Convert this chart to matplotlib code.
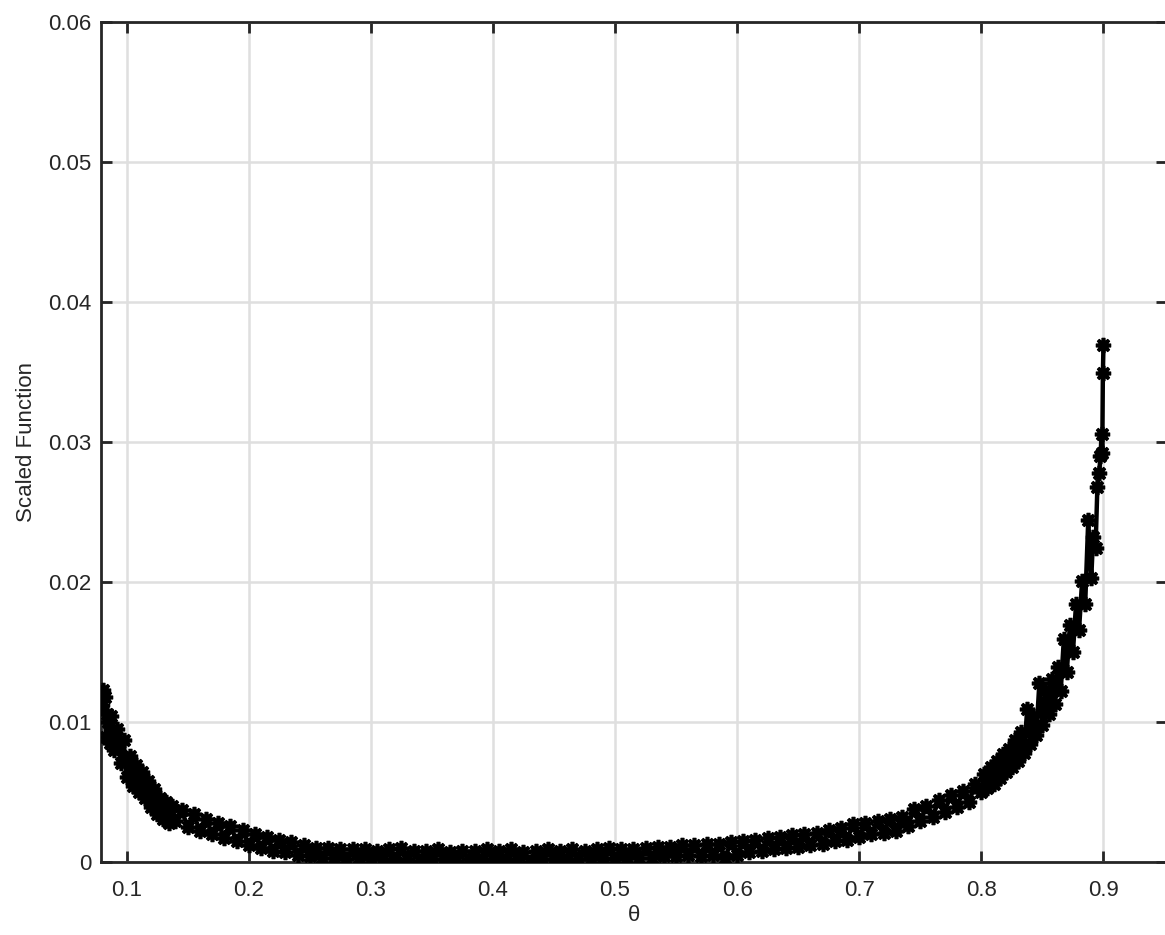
import numpy as np
import matplotlib
matplotlib.use("Agg")
import matplotlib.pyplot as plt
from matplotlib.ticker import FuncFormatter

# values (theta vs scaled function), noisy band kept as-is
theta_left = [0.0800, 0.0810, 0.0820, 0.0830, 0.0840, 0.0850, 0.0860, 0.0875,
              0.0900, 0.0925, 0.0950, 0.0975, 0.1000, 0.1025, 0.1050, 0.1075,
              0.1100, 0.1125, 0.1150, 0.1175, 0.1200, 0.1225, 0.1250, 0.1275,
              0.1300, 0.1325, 0.1350, 0.1375]
func_left = [0.0112, 0.0123, 0.0118, 0.0089, 0.0106, 0.0100, 0.0085, 0.0104,
             0.0080, 0.0095, 0.0071, 0.0087, 0.0061, 0.0076, 0.0054, 0.0069,
             0.0050, 0.0064, 0.0046, 0.0058, 0.0039, 0.0052, 0.0034, 0.0046,
             0.0031, 0.0043, 0.0028, 0.0040]

theta_mid = [0.140, 0.145, 0.150, 0.155, 0.160, 0.165, 0.170, 0.175, 0.180, 0.185,
             0.190, 0.195, 0.200, 0.205, 0.210, 0.215, 0.220, 0.225, 0.230, 0.235,
             0.240, 0.245, 0.250, 0.255, 0.260, 0.265, 0.270, 0.275, 0.280, 0.285,
             0.290, 0.295, 0.300, 0.305, 0.310, 0.315, 0.320, 0.325, 0.330, 0.335,
             0.340, 0.345, 0.350, 0.355, 0.360, 0.365, 0.370, 0.375, 0.380, 0.385,
             0.390, 0.395, 0.400, 0.405, 0.410, 0.415, 0.420, 0.425, 0.430, 0.435,
             0.440, 0.445, 0.450, 0.455, 0.460, 0.465, 0.470, 0.475, 0.480, 0.485,
             0.490, 0.495, 0.500, 0.505, 0.510, 0.515, 0.520, 0.525, 0.530, 0.535,
             0.540, 0.545, 0.550, 0.555, 0.560, 0.565, 0.570, 0.575, 0.580, 0.585,
             0.590, 0.595, 0.600, 0.605, 0.610, 0.615, 0.620, 0.625, 0.630, 0.635,
             0.640, 0.645, 0.650, 0.655, 0.660, 0.665, 0.670, 0.675, 0.680, 0.685,
             0.690, 0.695, 0.700, 0.705, 0.710, 0.715, 0.720, 0.725, 0.730, 0.735,
             0.740, 0.745, 0.750, 0.755, 0.760, 0.765, 0.770, 0.775, 0.780, 0.785,
             0.790, 0.795]
func_mid = [0.0029, 0.0037, 0.0025, 0.0034, 0.0022, 0.0031, 0.0020, 0.0028, 0.0017, 0.0026,
            0.0015, 0.0023, 0.0012, 0.0020, 0.0010, 0.0018, 0.0008, 0.0016, 0.0007, 0.0014,
            0.0005, 0.0012, 0.0004, 0.0010, 0.0003, 0.0010, 0.0003, 0.0009, 0.0002, 0.0009,
            0.0003, 0.0009, 0.0002, 0.0008, 0.0002, 0.0009, 0.0001, 0.0010, 0.0002, 0.0008,
            0.0001, 0.0008, 0.0002, 0.0009, 0.0002, 0.0007, 0.0001, 0.0008, 0.0002, 0.0008,
            0.0001, 0.0009, 0.0002, 0.0008, 0.0001, 0.0009, 0.0002, 0.0007, 0.0000, 0.0008,
            0.0002, 0.0009, 0.0002, 0.0008, 0.0001, 0.0009, 0.0002, 0.0008, 0.0002, 0.0009,
            0.0003, 0.0010, 0.0002, 0.0009, 0.0003, 0.0009, 0.0003, 0.0010, 0.0003, 0.0011,
            0.0004, 0.0011, 0.0004, 0.0012, 0.0005, 0.0012, 0.0004, 0.0013, 0.0005, 0.0013,
            0.0003, 0.0014, 0.0005, 0.0015, 0.0007, 0.0016, 0.0008, 0.0017, 0.0009, 0.0018,
            0.0010, 0.0019, 0.0011, 0.0020, 0.0012, 0.0021, 0.0013, 0.0023, 0.0015, 0.0024,
            0.0016, 0.0027, 0.0018, 0.0028, 0.0020, 0.0029, 0.0021, 0.0031, 0.0022, 0.0032,
            0.0026, 0.0038, 0.0029, 0.0040, 0.0032, 0.0044, 0.0036, 0.0048, 0.0039, 0.0051,
            0.0043, 0.0056]

theta_right = [0.8000, 0.8025, 0.8050, 0.8075, 0.8100, 0.8125, 0.8150, 0.8175, 0.8200, 0.8225,
               0.8250, 0.8275, 0.8300, 0.8325, 0.8350, 0.8375, 0.8400, 0.8425, 0.8450, 0.8475,
               0.8500, 0.8525, 0.8550, 0.8575, 0.8600, 0.8625, 0.8650, 0.8675, 0.8700, 0.8725,
               0.8750, 0.8775, 0.8800, 0.8825, 0.8850, 0.8875, 0.8900, 0.8915, 0.8935, 0.8950,
               0.8965, 0.8975, 0.8985, 0.8990, 0.8995, 0.9000]
func_right = [0.0050, 0.0063, 0.0053, 0.0068, 0.0056, 0.0072, 0.0060, 0.0077, 0.0064, 0.0081,
              0.0068, 0.0087, 0.0072, 0.0093, 0.0078, 0.0109, 0.0084, 0.0104, 0.0091, 0.0128,
              0.0098, 0.0123, 0.0106, 0.0131, 0.0113, 0.0139, 0.0122, 0.0159, 0.0136, 0.0169,
              0.0150, 0.0184, 0.0166, 0.0201, 0.0184, 0.0244, 0.0203, 0.0232, 0.0224, 0.0268,
              0.0278, 0.0290, 0.0306, 0.0292, 0.0349, 0.0369]

theta = np.array(theta_left + theta_mid + theta_right)
scaled = np.array(func_left + func_mid + func_right)

x_ticks = [0.1, 0.2, 0.3, 0.4, 0.5, 0.6, 0.7, 0.8, 0.9]
y_ticks = [0, 0.01, 0.02, 0.03, 0.04, 0.05, 0.06]

AX_COLOR = "#262626"

plt.rcParams["font.family"] = ["Liberation Sans", "DejaVu Sans"]

fig = plt.figure(figsize=(11.65, 9.35), dpi=100)
ax = fig.add_axes([0.0871, 0.0781, 0.9146, 0.8984])

# matlab-style asterisk marker: 8 arms
ax.plot(theta, scaled, color="black", linewidth=3.2, marker=(8, 2, 0),
        markersize=11, markeredgewidth=2.6, zorder=3)

ax.set_xlim(0.0794, 0.952)
ax.set_ylim(0, 0.06)
ax.set_xticks(x_ticks)
ax.set_yticks(y_ticks)
ax.xaxis.set_major_formatter(FuncFormatter(lambda v, p: "%g" % round(v, 3)))
ax.yaxis.set_major_formatter(FuncFormatter(lambda v, p: "%g" % round(v, 3)))

ax.grid(True, color="#dfdfdf", linewidth=1.8)
ax.set_axisbelow(True)
ax.tick_params(direction="in", length=8, width=2, colors=AX_COLOR,
               labelsize=16, top=True, right=True)
ax.tick_params(axis="x", pad=13)
ax.tick_params(axis="y", pad=7)
for s in ax.spines.values():
    s.set_color(AX_COLOR)
    s.set_linewidth(2)

ax.set_xlabel("θ", fontsize=16, color=AX_COLOR, labelpad=3)
ax.set_ylabel("Scaled Function", fontsize=16, color=AX_COLOR, labelpad=8)

fig.savefig("out.png", dpi=100)
